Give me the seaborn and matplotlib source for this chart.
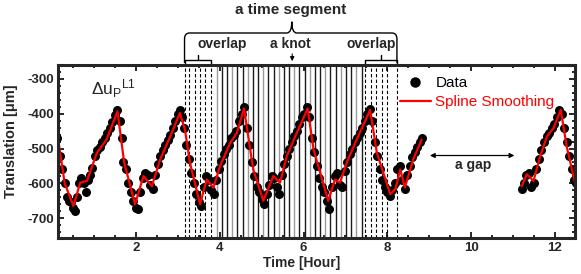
import numpy as np
import pandas as pd
import matplotlib
matplotlib.use("Agg")
import matplotlib.pyplot as plt
from matplotlib.path import Path
from matplotlib.patches import PathPatch
from matplotlib.lines import Line2D
from matplotlib.ticker import MultipleLocator
import seaborn as sns

# ---------------- data ----------------
data_t = [0.12, 0.18, 0.24, 0.30, 0.35, 0.40, 0.45, 0.50, 0.55, 0.60, 0.65, 0.70, 0.75, 0.80, 0.85,
          0.90, 0.96, 1.02, 1.08, 1.14, 1.20, 1.26, 1.32, 1.38, 1.44, 1.50, 1.56, 1.62, 1.66, 1.70,
          1.76, 1.82, 1.88, 1.94, 2.00, 2.05, 2.10, 2.16, 2.22, 2.28, 2.34, 2.40, 2.46, 2.52, 2.58,
          2.64, 2.70, 2.76, 2.82, 2.88, 2.94, 3.00, 3.05, 3.10, 3.15, 3.20, 3.26, 3.32, 3.38, 3.44,
          3.50, 3.56, 3.62, 3.68, 3.74, 3.80, 3.86, 3.92, 3.98, 4.04, 4.10, 4.16, 4.22, 4.28, 4.34,
          4.40, 4.46, 4.52, 4.58, 4.64, 4.70, 4.76, 4.82, 4.88, 4.94, 5.00, 5.06, 5.12, 5.18, 5.24,
          5.30, 5.36, 5.42, 5.48, 5.54, 5.60, 5.66, 5.72, 5.78, 5.84, 5.90, 5.96, 6.02, 6.08, 6.14,
          6.20, 6.26, 6.32, 6.38, 6.44, 6.50, 6.56, 6.60, 6.68, 6.74, 6.80, 6.86, 6.92, 6.98, 7.04,
          7.10, 7.16, 7.22, 7.28, 7.34, 7.40, 7.46, 7.52, 7.58, 7.64, 7.70, 7.76, 7.82, 7.88, 7.94,
          8.00, 8.06, 8.12, 8.18, 8.24, 8.30, 8.36, 8.42, 8.48, 8.54, 8.60, 8.66, 8.72, 8.78, 8.84,
          11.21, 11.26, 11.32, 11.38, 11.44, 11.50, 11.56, 11.62, 11.68, 11.74, 11.80, 11.86, 11.92,
          11.98, 12.04, 12.10, 12.16, 12.22, 12.28, 12.34, 12.40, 12.46, 12.50]
data_y = [-470, -520, -560, -600, -640, -650, -655, -672, -680, -640, -600, -585, -600, -625, -590,
          -575, -555, -520, -505, -495, -480, -470, -455, -440, -425, -405, -390, -420, -470, -540,
          -560, -600, -625, -650, -670, -675, -625, -585, -570, -575, -605, -615, -575, -545, -520,
          -505, -490, -475, -460, -440, -420, -400, -390, -410, -440, -490, -530, -570, -600, -630,
          -655, -665, -610, -580, -590, -620, -630, -590, -560, -535, -515, -500, -490, -470, -460,
          -450, -420, -400, -380, -440, -490, -540, -580, -610, -625, -645, -660, -630, -605, -580,
          -585, -610, -630, -575, -545, -520, -500, -480, -465, -450, -430, -410, -400, -380, -410,
          -470, -510, -550, -585, -610, -625, -650, -675, -610, -580, -570, -605, -610, -565, -540,
          -515, -500, -480, -470, -455, -440, -420, -400, -385, -420, -480, -520, -560, -590, -610,
          -625, -635, -620, -600, -560, -550, -590, -615, -575, -550, -525, -510, -495, -480, -470,
          -615, -600, -575, -570, -610, -600, -560, -530, -505, -480, -465, -455, -440,
          -430, -410, -390, -400, -440, -480, -520, -560, -590, -600]

spline1_t = [0.12, 0.30, 0.51, 0.67, 0.83, 1.07, 1.30, 1.56, 1.72, 1.98, 2.18, 2.38, 2.58, 2.82,
             3.05, 3.17, 3.29, 3.53, 3.69, 3.85, 4.01, 4.25, 4.41, 4.58, 4.80, 5.04, 5.28, 5.44,
             5.60, 5.84, 6.10, 6.24, 6.59, 6.75, 6.87, 7.03, 7.27, 7.59, 7.75, 8.07, 8.19, 8.31,
             8.42, 8.62, 8.82]
spline1_y = [-455, -600, -665, -598, -593, -512, -474, -393, -541, -660, -579, -608, -531, -465,
             -398, -446, -541, -660, -589, -612, -550, -484, -455, -385, -560, -650, -579, -598,
             -522, -455, -385, -503, -650, -589, -598, -541, -474, -389, -512, -631, -617, -560,
             -612, -531, -474]
spline2_t = [11.21, 11.33, 11.49, 11.65, 11.81, 11.97, 12.14, 12.28, 12.48]
spline2_y = [-608, -574, -593, -522, -465, -441, -389, -493, -598]

overlap_left = [3.16, 3.27, 3.40, 3.52, 3.65, 3.79]
knots = [3.93, 4.05, 4.18, 4.30, 4.42, 4.55, 4.67, 4.79, 4.92, 5.04, 5.16, 5.29, 5.41, 5.53,
         5.66, 5.78, 5.90, 6.03, 6.15, 6.27, 6.40, 6.52, 6.64, 6.77, 6.89, 7.01, 7.14, 7.26, 7.39]
overlap_right = [7.47, 7.60, 7.74, 7.87, 8.00, 8.23]

xticks = [2, 4, 6, 8, 10, 12]
yticks = [-700, -600, -500, -400, -300]

# ---------------- style ----------------
sns.set_style("ticks")
plt.rcParams['font.family'] = ['Liberation Sans', 'DejaVu Sans']
plt.rcParams['mathtext.default'] = 'regular'
plt.rcParams['axes.unicode_minus'] = False

fig = plt.figure(figsize=(5.81, 2.74), dpi=100)
ax = fig.add_axes([58 / 581, 1 - 238 / 274, (575 - 58) / 581, (238 - 65) / 274])

# knot lines
for x in overlap_left + overlap_right:
    ax.axvline(x, color='black', lw=0.8, ls=(0, (3, 2)), zorder=1)
for i, x in enumerate(knots):
    ax.axvline(x, color='#9a9a9a' if i % 3 == 0 else '#1a1a1a', lw=1.0, zorder=1)

df = pd.DataFrame({'t': data_t, 'y': data_y})
sns.scatterplot(data=df, x='t', y='y', ax=ax, color='black', s=42, edgecolor='black',
                linewidth=0, zorder=3, legend=False)
s1 = pd.DataFrame({'t': spline1_t, 'y': spline1_y})
s2 = pd.DataFrame({'t': spline2_t, 'y': spline2_y})
sns.lineplot(data=s1, x='t', y='y', ax=ax, color='red', lw=1.6, sort=False, zorder=4, legend=False)
sns.lineplot(data=s2, x='t', y='y', ax=ax, color='red', lw=1.6, sort=False, zorder=4, legend=False)

ax.set_xlim(0.14, 12.48)
ax.set_ylim(-757, -260)
ax.set_xticks(xticks)
ax.set_yticks(yticks)
ax.xaxis.set_minor_locator(MultipleLocator(0.5))
ax.yaxis.set_minor_locator(MultipleLocator(20))
ax.tick_params(which='both', direction='in', top=True, right=True, width=1.4)
ax.tick_params(which='major', length=4, labelsize=9.5, pad=3)
ax.tick_params(which='minor', length=2)
for lab in ax.get_xticklabels() + ax.get_yticklabels():
    lab.set_fontweight('bold')
for sp in ax.spines.values():
    sp.set_linewidth(2.2)
    sp.set_zorder(6)

ax.set_xlabel('Time [Hour]', fontsize=10, fontweight='bold')
ax.set_ylabel('Translation [\u03bcm]', fontsize=10.5, fontweight='bold')
ax.xaxis.set_label_coords(0.472, -0.105)
ax.yaxis.set_label_coords(-0.078, 0.56)

ax.text(0.93, -328, r'$\Delta u_P{}^{L1}$', fontsize=12.5, ha='left', va='center')

handles = [Line2D([], [], marker='o', color='black', ls='none', markersize=6.5),
           Line2D([], [], color='red', lw=1.6)]
ax.legend(handles, ['Data', 'Spline Smoothing'], loc='upper left', bbox_to_anchor=(0.65, 0.97),
          frameon=False, fontsize=11, labelcolor=['black', 'red'], handlelength=2.0,
          handletextpad=0.3, borderaxespad=0, labelspacing=0.3)

# gap annotation
ax.annotate('', xy=(8.95, -520), xytext=(11.1, -520),
            arrowprops=dict(arrowstyle='<|-|>', lw=0.9, color='black', mutation_scale=7))
ax.text(10.05, -548, 'a gap', fontsize=10, fontweight='bold', ha='center', va='center')

# braces above axes
tr = ax.get_xaxis_transform()
a, b, c = 3.16, 8.23, 5.72
yt, yb, yc = 1.185, 1.012, 1.25
verts = [(a, yb), (a, yt - 0.035), (a, yt), (a + 0.12, yt), (c - 0.12, yt), (c, yt), (c, yc),
         (c, yt), (c + 0.12, yt), (b - 0.12, yt), (b, yt), (b, yt - 0.035), (b, yb)]
codes = [Path.MOVETO, Path.LINETO, Path.CURVE3, Path.CURVE3, Path.LINETO, Path.CURVE3, Path.CURVE3,
         Path.CURVE3, Path.CURVE3, Path.LINETO, Path.CURVE3, Path.CURVE3, Path.LINETO]
ax.add_patch(PathPatch(Path(verts, codes), transform=tr, fill=False, lw=1.0, color='black',
                       clip_on=False))

def small_bracket(x0, x1, xm):
    ax.plot([x0, x0, x1, x1], [1.006, 1.029, 1.029, 1.006], transform=tr, color='black',
            lw=1.0, clip_on=False)
    ax.plot([xm, xm], [1.029, 1.058], transform=tr, color='black', lw=1.0, clip_on=False)

small_bracket(3.16, 3.79, 3.47)
small_bracket(7.47, 8.23, 7.85)

ax.text(4.05, 1.121, 'overlap', transform=tr, fontsize=10, fontweight='bold', ha='center',
        va='center')
ax.text(7.61, 1.121, 'overlap', transform=tr, fontsize=10, fontweight='bold', ha='center',
        va='center')
ax.text(5.68, 1.121, 'a knot', transform=tr, fontsize=10, fontweight='bold', ha='center',
        va='center')
ax.annotate('', xy=(5.73, 1.006), xytext=(5.73, 1.08), xycoords=tr, textcoords=tr,
            arrowprops=dict(arrowstyle='-|>', lw=0.8, color='black', mutation_scale=6))
ax.text(5.70, 1.318, 'a time segment', transform=tr, fontsize=11, fontweight='bold',
        ha='center', va='center')

fig.savefig('out.png', dpi=100)
